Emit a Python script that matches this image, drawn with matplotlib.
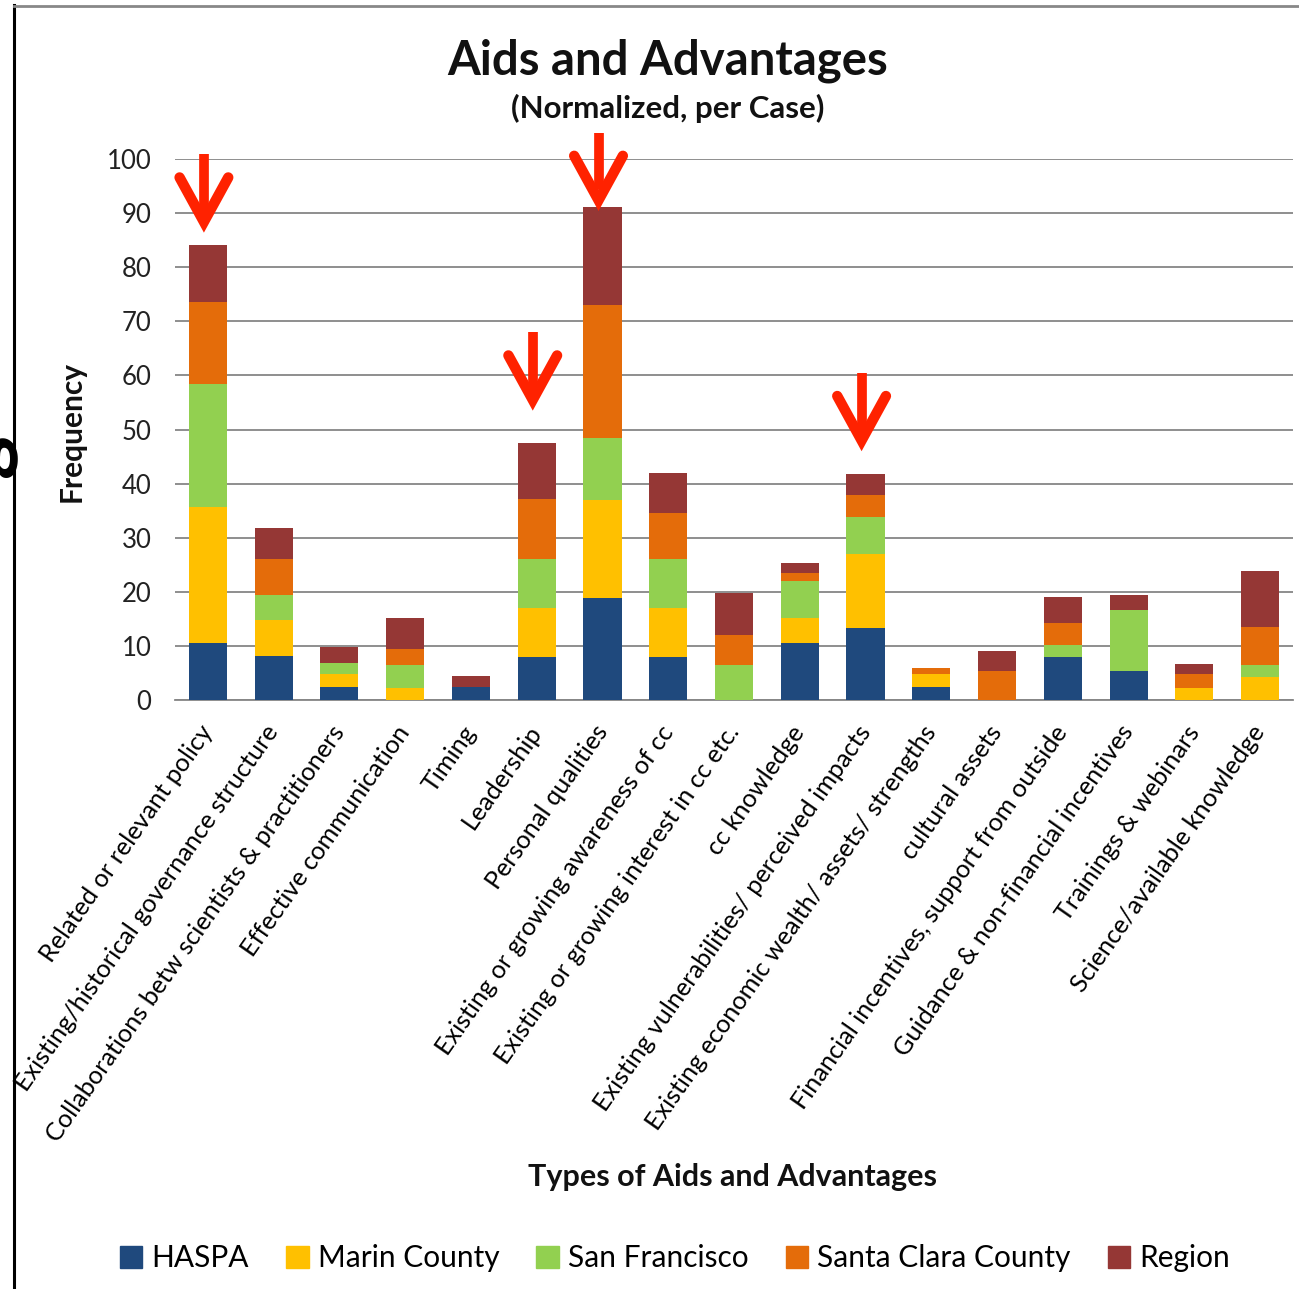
import matplotlib.pyplot as plt
from matplotlib.lines import Line2D
from matplotlib.patches import Patch
import numpy as np

plt.rcParams['font.family'] = ['Lato', 'DejaVu Sans']

categories = [
    "Related or relevant policy",
    "Existing/historical governance structure",
    "Collaborations betw scientists & practitioners",
    "Effective communication",
    "Timing",
    "Leadership",
    "Personal qualities",
    "Existing or growing awareness of cc",
    "Existing or growing interest in cc etc.",
    "cc knowledge",
    "Existing vulnerabilities/ perceived impacts",
    "Existing economic wealth/ assets/ strengths",
    "cultural assets",
    "Financial incentives, support from outside",
    "Guidance & non-financial incentives",
    "Trainings & webinars",
    "Science/available knowledge",
]
haspa = [10.6, 8.1, 2.5, 0, 2.4, 8.0, 18.8, 8.0, 0, 10.6, 13.3, 2.4, 0, 8.0, 5.3, 0, 0]
marin = [25.1, 6.7, 2.4, 2.2, 0, 9.1, 18.1, 9.1, 0, 4.6, 13.7, 2.4, 0, 0, 0, 2.2, 4.3]
san_francisco = [22.7, 4.6, 2.0, 4.3, 0, 8.9, 11.6, 8.9, 6.5, 6.8, 6.8, 0, 0, 2.1, 11.3, 0, 2.2]
santa_clara = [15.2, 6.6, 0, 2.9, 0, 11.2, 24.6, 8.5, 5.6, 1.4, 4.1, 1.2, 5.3, 4.1, 0, 2.6, 7.0]
region = [10.6, 5.8, 2.9, 5.8, 2.0, 10.3, 18.1, 7.5, 7.7, 1.9, 3.8, 0, 3.8, 4.8, 2.9, 1.9, 10.4]

series = [("HASPA", haspa, "#1F497D"),
          ("Marin County", marin, "#FFC000"),
          ("San Francisco", san_francisco, "#92D050"),
          ("Santa Clara County", santa_clara, "#E46C0A"),
          ("Region", region, "#953735")]

# highlighted categories (red arrows) and where the arrow tips sit
arrow_idx = [0, 5, 6, 10]
arrow_tip = [88.4, 55.5, 92.4, 48.0]

fig = plt.figure(figsize=(12.99, 12.89), dpi=100)
ax = fig.add_axes([0.1347, 0.4569, 0.8607, 0.4197])

x = np.arange(len(categories))
bottom = np.zeros(len(categories))
for name, vals, col in series:
    vals = np.array(vals)
    ax.bar(x, vals, 0.58, bottom=bottom, color=col, label=name, zorder=3)
    bottom += vals

ax.set_xlim(-0.5, len(categories) - 0.5)
ax.set_ylim(0, 100)
ax.set_yticks(range(0, 101, 10))
ax.tick_params(axis='y', length=0, pad=17, labelsize=18.5, labelcolor='#222222')
ax.tick_params(axis='x', length=0, pad=20)
ax.set_xticks(x)
ax.set_xticklabels(categories, rotation=55, ha='right', va='center',
                   rotation_mode='anchor', fontsize=18.2)
ax.grid(axis='y', color='#868686', lw=1.3, zorder=0)
for s in ['left', 'right', 'top']:
    ax.spines[s].set_visible(False)
ax.spines['bottom'].set_color('#868686')
ax.spines['bottom'].set_linewidth(1.3)

# red arrows
for i, tip in zip(arrow_idx, arrow_tip):
    xc = i - 0.06
    ax.add_line(Line2D([xc, xc], [tip + 2, tip + 12.5], color='#FF2200', lw=7,
                       solid_capstyle='butt', clip_on=False, zorder=5))
    ax.add_line(Line2D([xc - 0.37, xc, xc + 0.37], [tip + 8.2, tip, tip + 8.2],
                       color='#FF2200', lw=7.5, solid_capstyle='round',
                       solid_joinstyle='miter', clip_on=False, zorder=5))

fig.text(0.514, 0.953, "Aids and Advantages", ha='center', va='center',
         fontsize=34, fontweight='bold', color='#111111')
fig.text(0.514, 0.916, "(Normalized, per Case)", ha='center', va='center',
         fontsize=22.5, fontweight='bold', color='#111111')
fig.text(0.055, 0.6656, "Frequency", rotation=90, ha='center', va='center',
         fontsize=21.5, fontweight='bold', color='#111111')
fig.text(0.564, 0.087, "Types of Aids and Advantages", ha='center', va='center',
         fontsize=22, fontweight='bold', color='#111111')

handles = [Patch(color=c) for _, _, c in series]
fig.legend(handles, [n for n, _, _ in series], loc='center', ncol=5,
           bbox_to_anchor=(0.5196, 0.024), frameon=False, fontsize=21.5,
           handlelength=0.75, handleheight=0.75, handletextpad=0.3,
           columnspacing=1.25)

# frame lines and a cut-off glyph of the original screenshot
fig.add_artist(Line2D([0.011, 0.011], [0, 0.996], color='black', lw=2.2))
fig.add_artist(Line2D([0.011, 1.0], [0.995, 0.995], color='#888888', lw=2))
fig.text(-0.016, 0.647, "g", rotation=90, ha='center', va='center',
         fontsize=60, fontweight='bold', color='black')

fig.savefig('out.png', dpi=100)
